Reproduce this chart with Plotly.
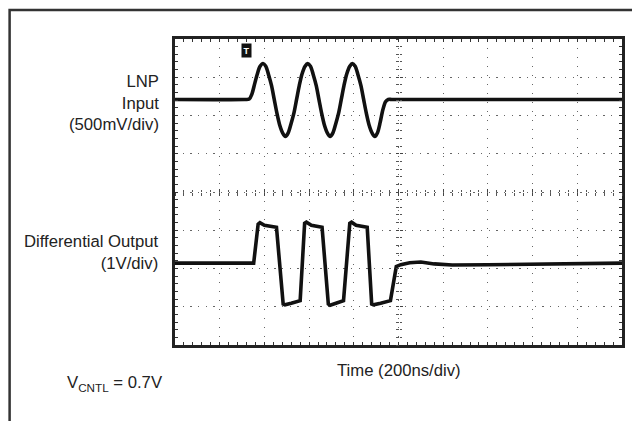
import plotly.graph_objects as go

# ---- data (time and amplitude in screen divisions) ----
# LNP input burst (500 mV/div), top trace
t_in = [0.00, 1.55, 1.66, 1.72, 1.78, 1.84, 1.90, 1.97, 2.03, 2.09, 2.16,
        2.22, 2.28, 2.34, 2.41, 2.47, 2.53, 2.59, 2.66, 2.72, 2.78,
        2.84, 2.91, 2.97, 3.03, 3.09, 3.16, 3.22, 3.28, 3.34, 3.41,
        3.47, 3.53, 3.59, 3.66, 3.72, 3.78, 3.84, 3.91, 3.97, 4.03,
        4.09, 4.16, 4.22, 4.28, 4.34, 4.41, 4.47, 4.53, 4.59, 4.65,
        4.71, 4.77, 4.85, 10.00]
v_in = [2.42, 2.42, 2.43, 2.56, 2.82, 3.08, 3.28, 3.36, 3.29, 3.08, 2.78,
        2.42, 2.06, 1.76, 1.54, 1.45, 1.54, 1.76, 2.06, 2.42, 2.78,
        3.08, 3.29, 3.36, 3.29, 3.08, 2.78, 2.42, 2.06, 1.76, 1.54,
        1.45, 1.54, 1.76, 2.06, 2.42, 2.78, 3.08, 3.29, 3.36, 3.29,
        3.08, 2.78, 2.42, 2.06, 1.76, 1.54, 1.45, 1.55, 1.82, 2.15,
        2.36, 2.42, 2.42, 2.42]

# Differential output (1 V/div), bottom trace
t_out = [0.00, 1.76, 1.86, 1.90, 2.00, 2.27, 2.42, 2.46, 2.60, 2.80, 2.90, 2.94,
         3.05, 3.29, 3.43, 3.47, 3.60, 3.77, 3.91, 3.95, 4.05, 4.30, 4.40, 4.44,
         4.60, 4.82, 4.95, 5.05, 5.25, 5.50, 5.80, 6.20, 7.00, 10.00]
v_out = [-1.86, -1.86, -0.84, -0.80, -0.87, -0.92, -2.93, -2.95, -2.91, -2.84, -0.82, -0.79,
         -0.87, -0.92, -2.93, -2.96, -2.91, -2.84, -0.82, -0.79, -0.87, -0.92, -2.93, -2.95,
         -2.91, -2.84, -1.95, -1.90, -1.85, -1.83, -1.88, -1.91, -1.90, -1.86]

x_range = [0, 10]
y_range = [-4, 4]
trigger_pos = [1.59, 3.70]

FONT = "Liberation Sans, Arial, sans-serif"
INK = "#222222"

fig = go.Figure()
fig.add_trace(go.Scatter(x=t_in, y=v_in, mode="lines",
                         line=dict(color="#111111", width=3.6, shape="spline", smoothing=0.8),
                         hoverinfo="skip", showlegend=False))
fig.add_trace(go.Scatter(x=t_out, y=v_out, mode="lines",
                         line=dict(color="#111111", width=3.6),
                         hoverinfo="skip", showlegend=False))
# dummy traces to activate the centre graticule axes
for xa, ya in [("x2", "y"), ("x3", "y"), ("x", "y2"), ("x", "y3")]:
    fig.add_trace(go.Scatter(x=[None], y=[None], xaxis=xa, yaxis=ya,
                             hoverinfo="skip", showlegend=False))

W, H = 632, 421
ml, mr, mt, mb = 175, 7, 39, 76

edge = dict(showline=True, linecolor="#222222", linewidth=2.5, mirror="allticks",
            ticks="inside", ticklen=3, tickwidth=1.2, tickcolor="#333333",
            showticklabels=False, zeroline=False, dtick=1,
            showgrid=True, gridcolor="#666666", gridwidth=1.3,
            minor=dict(dtick=0.2, ticks="inside", ticklen=3, tickwidth=1.2,
                       tickcolor="#333333", showgrid=False))

fig.update_layout(
    width=W, height=H,
    margin=dict(l=ml, r=mr, t=mt, b=mb),
    paper_bgcolor="white", plot_bgcolor="white",
    xaxis=dict(range=x_range, griddash="1.3px,7.7px", **edge),
    yaxis=dict(range=y_range, griddash="1.3px,6.35px", **edge),
)

ctick = dict(dtick=0.2, ticklen=2.5, tickwidth=1, tickcolor="#555555")
center_common = dict(showline=False, showgrid=False, zeroline=False,
                     showticklabels=False, dtick=1, ticklen=3, tickwidth=1,
                     tickcolor="#444444")
fig.update_layout(
    xaxis2=dict(overlaying="x", anchor="free", position=0.5, range=x_range,
                ticks="outside", minor=dict(ticks="outside", **ctick), **center_common),
    xaxis3=dict(overlaying="x", anchor="free", position=0.5, range=x_range,
                ticks="inside", minor=dict(ticks="inside", **ctick), **center_common),
    yaxis2=dict(overlaying="y", anchor="free", position=0.5, range=y_range,
                ticks="outside", minor=dict(ticks="outside", **ctick), **center_common),
    yaxis3=dict(overlaying="y", anchor="free", position=0.5, range=y_range,
                ticks="inside", minor=dict(ticks="inside", **ctick), **center_common),
)

pw, ph = W - ml - mr, H - mt - mb
def px(xp):
    return (xp - ml) / pw
def py(yp):
    return (H - mb - yp) / ph

# outer frame (open to right/bottom)
fig.add_shape(type="rect", xref="paper", yref="paper",
              x0=px(8.5), x1=px(700), y0=py(500), y1=py(10),
              line=dict(color="#333333", width=2.5), fillcolor="rgba(0,0,0,0)",
              layer="below")

fnt = dict(family=FONT, size=16.7, color=INK)
fig.add_annotation(xref="paper", yref="paper", x=px(161), y=py(103),
                   text="LNP<br>Input<br>(500mV/div)", showarrow=False,
                   xanchor="right", yanchor="middle", align="right", font=fnt)
fig.add_annotation(xref="paper", yref="paper", x=px(161), y=py(252.5),
                   text="Differential Output<br>(1V/div)", showarrow=False,
                   xanchor="right", yanchor="middle", align="right", font=fnt)
fig.add_annotation(xref="paper", yref="paper", x=0.5, y=py(370),
                   text="Time (200ns/div)", showarrow=False,
                   xanchor="center", yanchor="middle", font=fnt)
fig.add_annotation(xref="paper", yref="paper", x=px(64), y=py(383),
                   text="V<sub>CNTL</sub> = 0.7V", showarrow=False,
                   xanchor="left", yanchor="middle", font=fnt)
# trigger marker
fig.add_annotation(x=trigger_pos[0], y=trigger_pos[1], xref="x", yref="y",
                   text="<b>T</b>", showarrow=False, bgcolor="#111111",
                   font=dict(family=FONT, size=9, color="white"), borderpad=1.5)

fig.write_html("out.html",
               config={"displayModeBar": False},
               post_script="document.body.style.margin='0px';")
